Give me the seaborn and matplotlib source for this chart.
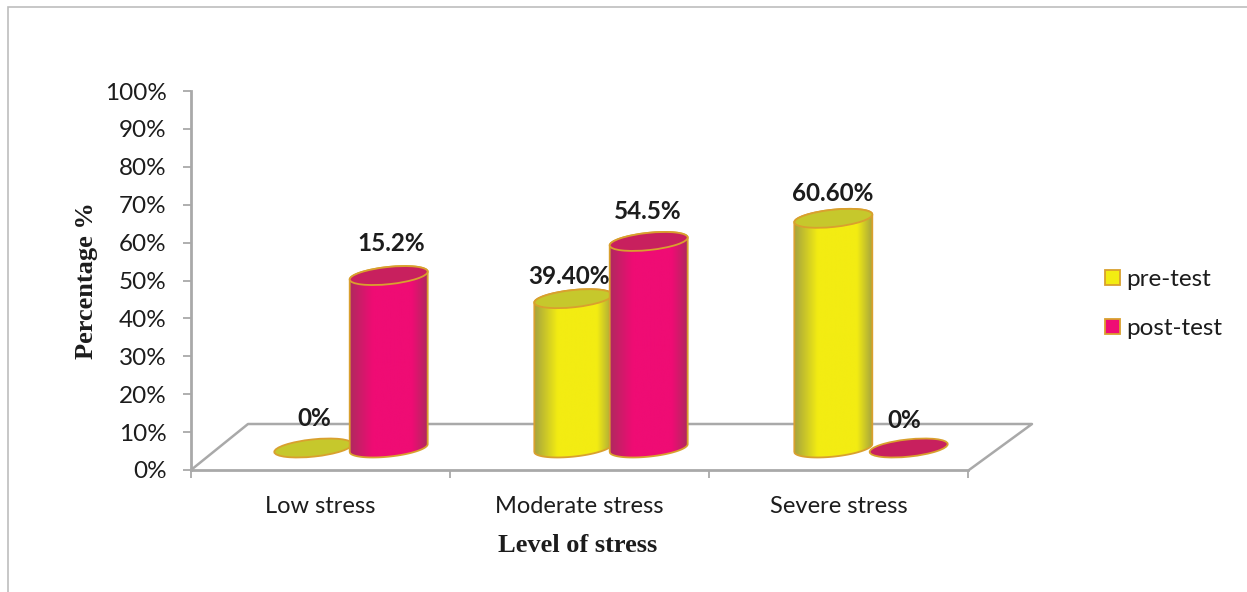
import numpy as np
import pandas as pd
import seaborn as sns
import matplotlib.pyplot as plt
from matplotlib.colors import LinearSegmentedColormap
from matplotlib.patches import Ellipse, PathPatch, Rectangle
from matplotlib.path import Path

categories = ["Low stress", "Moderate stress", "Severe stress"]
series_names = ["pre-test", "post-test"]
pre_test = [0, 39.4, 60.6]
post_test = [45.5, 54.5, 0]
pre_labels = ["0%", "39.40%", "60.60%"]
post_labels = ["15.2%", "54.5%", "0%"]
y_ticks = [0, 10, 20, 30, 40, 50, 60, 70, 80, 90, 100]

W, H = 1247, 592
GOLD = "#D9A02E"
GREY = "#A9A9A9"
TEXT = "#1c1c1c"
BODY_FONT = ["Lato", "DejaVu Sans"]
SERIF_FONT = ["Liberation Serif", "DejaVu Serif"]

# (body edge, body middle, top cap)
colors = {
    "pre-test": ("#A5A33E", "#F3EC12", "#C6C82C"),
    "post-test": ("#AE2A5E", "#EF0C74", "#C8205E"),
}

df = pd.DataFrame({
    "level": categories * 2,
    "series": [series_names[0]] * 3 + [series_names[1]] * 3,
    "value": pre_test + post_test,
})

sns.set_theme(style="white")
plt.rcParams["font.family"] = BODY_FONT

fig = plt.figure(figsize=(W / 100, H / 100), dpi=100, facecolor="white")


def px_axes(left, top, right, bottom, **kw):
    return fig.add_axes([left / W, 1 - bottom / H, (right - left) / W, (bottom - top) / H], **kw)


# front wall axes with the visible ticks
ax = px_axes(191, 91, 968, 470)
ax.set_xlim(-0.5, 2.5)
ax.set_ylim(0, 100)
ax.set_yticks(y_ticks)
ax.set_yticklabels(["%d%%" % t for t in y_ticks], fontsize=17.5, color=TEXT)
ax.set_xticks(range(3))
ax.set_xticklabels(categories, fontsize=17, color=TEXT)
ax.set_xticks([-0.5, 0.5, 1.5, 2.5], minor=True)
ax.tick_params(axis="y", length=5.5, width=1.3, color=GREY, direction="out", pad=12, left=True)
ax.tick_params(axis="x", which="major", length=0, pad=18.5)
ax.tick_params(axis="x", which="minor", length=6, width=1.3, color=GREY, direction="out", bottom=True)
sns.despine(ax=ax)
for side in ["left", "bottom"]:
    ax.spines[side].set_color(GREY)
    ax.spines[side].set_linewidth(2)
ax.set_xlabel("")
ax.set_ylabel("")

# the bars sit on the floor, a bit behind the front wall
ax_bars = px_axes(221, 69, 1001, 448)
ax_bars.patch.set_alpha(0)
sns.barplot(
    data=df, x="level", y="value", hue="series", order=categories, hue_order=series_names,
    palette=[colors[s][1] for s in series_names], width=0.58, gap=0, saturation=1,
    edgecolor=GOLD, linewidth=1.3, ax=ax_bars,
)
ax_bars.set_xlim(-0.5, 2.5)
ax_bars.set_ylim(0, 100)
ax_bars.axis("off")

# overlay in pixel units for the cylinder shading
ov = fig.add_axes([0, 0, 1, 1])
ov.patch.set_alpha(0)
ov.axis("off")

fig.add_artist(Rectangle((8 / W, -0.01), 1.1, 1 - 7 / H + 0.01, transform=fig.transFigure,
                         fill=False, edgecolor="#BDBDBD", linewidth=1.2))

# floor
ov.plot([191, 248, 1032, 969], [470, 424, 424, 470], color=GREY, lw=1.8, zorder=1)


def to_px(axes, x, y):
    p = axes.transData.transform((x, y))
    return p[0], H - p[1]


def ellipse_pts(cx, cy, a, b, t0, t1, tilt):
    t = np.radians(np.linspace(t0, t1, 40))
    ex, ey = a * np.cos(t), b * np.sin(t)
    c, s = np.cos(tilt), np.sin(tilt)
    return np.column_stack([cx + ex * c + ey * s, cy - ex * s + ey * c])


TILT_DEG = 6
TILT = np.radians(TILT_DEG)
B = 8.6
label_offsets = {
    "pre-test": [(1, -29), (-4, -22), (-1, -25)],
    "post-test": [(3, -32), (-1, -30), (-4, -28)],
}
series_vals = {"pre-test": pre_test, "post-test": post_test}
series_text = {"pre-test": pre_labels, "post-test": post_labels}

bars = [p for c in ax_bars.containers for p in c]
k = 0
for s_i, name in enumerate(series_names):
    edge, mid, cap = colors[name]
    cmap = LinearSegmentedColormap.from_list(
        name, [(0, edge), (0.3, mid), (0.8, mid), (1, edge)])
    for c_i in range(3):
        bar = bars[k]
        k += 1
        x0 = bar.get_x()
        w = bar.get_width()
        val = series_vals[name][c_i]
        cx, base = to_px(ax_bars, x0 + w / 2, 0)
        _, top = to_px(ax_bars, x0 + w / 2, val)
        a = (to_px(ax_bars, x0 + w, 0)[0] - to_px(ax_bars, x0, 0)[0]) / 2 * 1.04
        order = 3 + c_i * 10 + s_i
        if val > 0:
            lower = ellipse_pts(cx, base, a, B, 180, 0, TILT)  # left to right, under side
            upper = ellipse_pts(cx, top, a, B, 360, 180, TILT)
            verts = np.vstack([lower, upper, lower[:1]])
            body = PathPatch(Path(verts), facecolor="none", edgecolor=GOLD, lw=1.3, zorder=order + 0.2)
            ov.add_patch(body)
            grad = np.linspace(0, 1, 200).reshape(1, -1)
            im = ov.imshow(grad, cmap=cmap, aspect="auto", zorder=order + 0.1,
                           extent=(cx - a, cx + a, base + 12, top - 12))
            im.set_clip_path(body)
            bar.set_clip_path(body)
        else:
            bar.set_visible(False)
        cap_y = top if val > 0 else base
        # y runs downwards on this overlay, so the angle is negative to lift the right end
        ov.add_patch(Ellipse((cx, cap_y), 2 * a, 2 * B, angle=-TILT_DEG,
                             facecolor=cap, edgecolor=GOLD, lw=1.3, zorder=order + 0.3))
        dx, dy = label_offsets[name][c_i]
        ov.text(cx + dx, cap_y + dy, series_text[name][c_i], ha="center", va="center",
                fontsize=17.5, fontweight="bold", color=TEXT, zorder=60)

ov.set_xlim(0, W)
ov.set_ylim(H, 0)

fig.text(86 / W, 1 - 281 / H, "Percentage %", rotation=90, ha="center", va="center",
         family=SERIF_FONT, fontweight="bold", fontsize=19, color=TEXT)
fig.text(578 / W, 1 - 546 / H, "Level of stress", ha="center", va="center",
         family=SERIF_FONT, fontweight="bold", fontsize=19, color=TEXT)

sns.move_legend(
    ax_bars, "center left", bbox_to_anchor=(1083 / W, 1 - 304 / H), bbox_transform=fig.transFigure,
    title=None, frameon=False, fontsize=17.5, handlelength=0.62, handleheight=0.62,
    handletextpad=0.28, labelspacing=1.15, labelcolor=TEXT,
)
ax_bars.get_legend().set_visible(True)
ax_bars.get_legend().set_zorder(100)

fig.savefig("out.png", dpi=100, facecolor="white")
